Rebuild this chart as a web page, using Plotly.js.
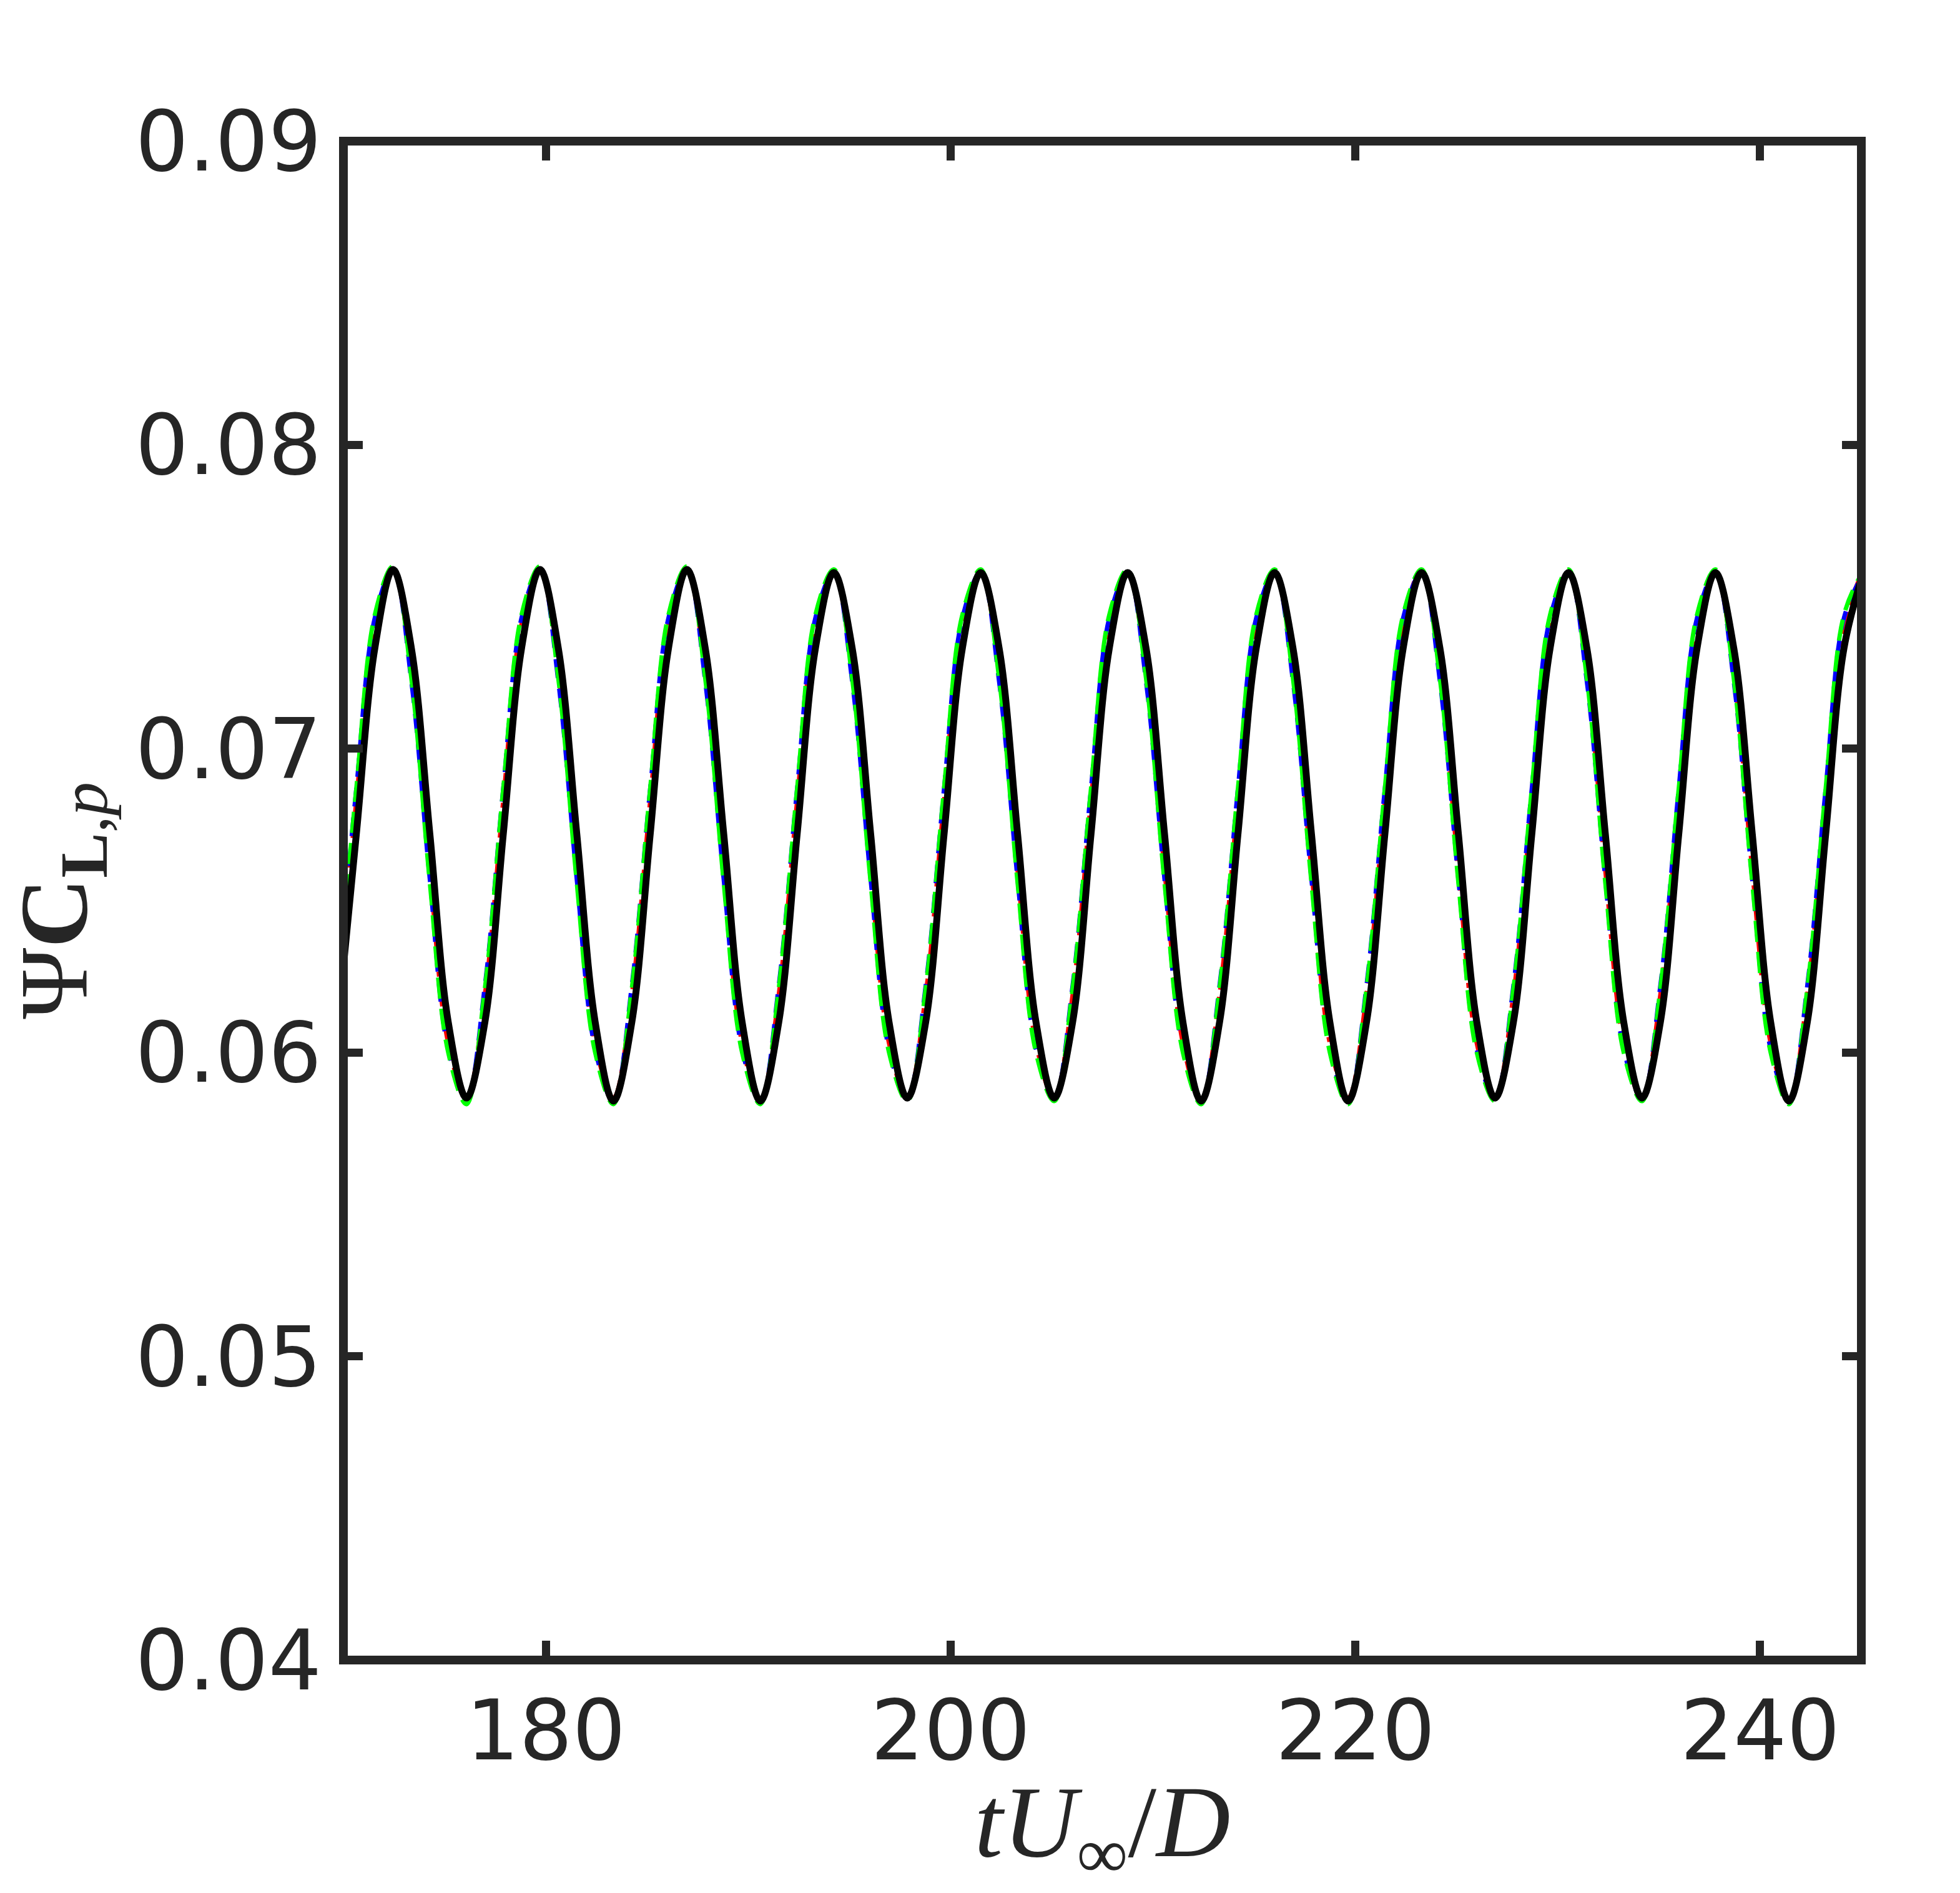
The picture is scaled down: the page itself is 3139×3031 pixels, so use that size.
<!DOCTYPE html>
<html><head><meta charset="utf-8">
<script src="https://cdn.plot.ly/plotly-3.0.1.min.js"></script>
<style>html,body{margin:0;padding:0;background:#fff}</style>
</head><body><div id="chart" style="width:3139px;height:3031px"></div>
<script>
// time samples (tU/D)
const time = [169.73,170.64,171.55,172.45,173.36,174.27,175.18,176.08,
176.99,177.90,178.80,179.71,180.62,181.53,182.44,183.34,
184.25,185.16,186.06,186.97,187.88,188.79,189.70,190.60,
191.51,192.42,193.32,194.23,195.14,196.05,196.96,197.86,
198.77,199.68,200.58,201.49,202.40,203.31,204.22,205.12,
206.03,206.94,207.84,208.75,209.66,210.57,211.48,212.38,
213.29,214.20,215.10,216.01,216.92,217.83,218.74,219.64,
220.55,221.46,222.36,223.27,224.18,225.09,226.00,226.90,
227.81,228.72,229.62,230.53,231.44,232.35,233.26,234.16,
235.07,235.98,236.88,237.79,238.70,239.61,240.52,241.42,
242.33,243.24,244.14,245.05];

const seriesBlack = [0.0610,0.0672,0.0733,0.0759,0.0733,0.0672,0.0610,0.0585,
0.0610,0.0672,0.0733,0.0759,0.0733,0.0672,0.0610,0.0584,
0.0610,0.0672,0.0733,0.0759,0.0733,0.0672,0.0610,0.0584,
0.0610,0.0672,0.0733,0.0758,0.0733,0.0672,0.0610,0.0585,
0.0610,0.0672,0.0733,0.0758,0.0733,0.0672,0.0610,0.0585,
0.0610,0.0672,0.0733,0.0758,0.0733,0.0672,0.0610,0.0584,
0.0610,0.0672,0.0733,0.0758,0.0733,0.0672,0.0610,0.0584,
0.0610,0.0672,0.0733,0.0758,0.0733,0.0672,0.0610,0.0585,
0.0610,0.0672,0.0733,0.0758,0.0733,0.0672,0.0610,0.0585,
0.0610,0.0672,0.0733,0.0758,0.0733,0.0672,0.0610,0.0584,
0.0610,0.0672,0.0733,0.0757];

const seriesRed = [0.0619,0.0683,0.0741,0.0759,0.0725,0.0660,0.0603,0.0585,
0.0619,0.0683,0.0741,0.0759,0.0725,0.0660,0.0603,0.0585,
0.0619,0.0683,0.0741,0.0759,0.0725,0.0660,0.0603,0.0584,
0.0619,0.0683,0.0741,0.0758,0.0725,0.0660,0.0603,0.0585,
0.0619,0.0683,0.0741,0.0758,0.0725,0.0660,0.0603,0.0585,
0.0619,0.0683,0.0741,0.0758,0.0725,0.0660,0.0603,0.0584,
0.0619,0.0683,0.0741,0.0758,0.0725,0.0660,0.0603,0.0585,
0.0619,0.0683,0.0741,0.0759,0.0725,0.0660,0.0603,0.0585,
0.0619,0.0683,0.0741,0.0758,0.0725,0.0660,0.0603,0.0585,
0.0619,0.0683,0.0741,0.0758,0.0725,0.0660,0.0603,0.0584,
0.0619,0.0683,0.0741,0.0758];

const seriesBlue = [0.0622,0.0687,0.0743,0.0759,0.0722,0.0657,0.0601,0.0585,
0.0622,0.0687,0.0743,0.0759,0.0722,0.0657,0.0601,0.0584,
0.0622,0.0687,0.0743,0.0759,0.0722,0.0657,0.0601,0.0584,
0.0622,0.0687,0.0743,0.0758,0.0722,0.0657,0.0601,0.0585,
0.0622,0.0687,0.0743,0.0758,0.0722,0.0657,0.0601,0.0585,
0.0622,0.0687,0.0743,0.0758,0.0722,0.0657,0.0601,0.0584,
0.0622,0.0687,0.0743,0.0758,0.0722,0.0657,0.0601,0.0584,
0.0622,0.0687,0.0743,0.0758,0.0722,0.0657,0.0601,0.0585,
0.0622,0.0687,0.0743,0.0758,0.0722,0.0657,0.0601,0.0585,
0.0622,0.0687,0.0743,0.0758,0.0722,0.0657,0.0601,0.0584,
0.0622,0.0687,0.0743,0.0757];

const seriesGreen = [0.0621,0.0687,0.0744,0.0760,0.0723,0.0656,0.0600,0.0583,
0.0621,0.0687,0.0744,0.0760,0.0723,0.0656,0.0600,0.0583,
0.0621,0.0687,0.0744,0.0760,0.0723,0.0656,0.0600,0.0583,
0.0621,0.0687,0.0744,0.0759,0.0723,0.0656,0.0600,0.0584,
0.0621,0.0687,0.0744,0.0759,0.0723,0.0656,0.0600,0.0584,
0.0621,0.0687,0.0744,0.0759,0.0723,0.0656,0.0600,0.0583,
0.0621,0.0687,0.0744,0.0759,0.0723,0.0656,0.0600,0.0583,
0.0621,0.0687,0.0744,0.0759,0.0723,0.0656,0.0600,0.0584,
0.0621,0.0687,0.0744,0.0759,0.0723,0.0656,0.0600,0.0584,
0.0621,0.0687,0.0744,0.0759,0.0723,0.0656,0.0600,0.0583,
0.0621,0.0687,0.0744,0.0758];

const xTickVals = [180, 200, 220, 240];
const yTickVals = [0.04, 0.05, 0.06, 0.07, 0.08, 0.09];
const yTickText = ['0.04', '0.05', '0.06', '0.07', '0.08', '0.09'];

const axisColor = '#262626';
const tickFont = {family: 'DejaVu Sans', size: 134, color: axisColor};

function trace(y, color, width, dash) {
  return {x: time, y: y, type: 'scatter', mode: 'lines',
    line: {color: color, width: width, dash: dash, shape: 'spline', smoothing: 1},
    hoverinfo: 'skip', showlegend: false, cliponaxis: true};
}

const data = [
  trace(seriesRed, '#ff0000', 7, '36px,12px,8px,12px'),
  trace(seriesBlue, '#0000ff', 7, '30px,18px'),
  trace(seriesGreen, '#00ff00', 7, '34px,16px'),
  trace(seriesBlack, '#000000', 11, 'solid')
];

const commonAxis = {
  showline: false, mirror: 'ticks',
  ticks: 'inside', ticklen: 31, tickwidth: 13, tickcolor: axisColor,
  showgrid: false, zeroline: false, tickfont: tickFont
};

const layout = {
  width: 3139, height: 3031,
  paper_bgcolor: '#ffffff', plot_bgcolor: '#ffffff',
  margin: {l: 549.5, r: 158, t: 226, b: 372.5, pad: 0},
  xaxis: Object.assign({}, commonAxis, {
    range: [170, 245],
    tickmode: 'array', tickvals: xTickVals,
    ticklabelstandoff: 24,
    title: {text: '<i>tU</i><sub>∞</sub>/<i>D</i>', standoff: 42,
      font: {family: 'Liberation Serif', size: 164, color: axisColor}}
  }),
  yaxis: Object.assign({}, commonAxis, {
    range: [0.04, 0.09],
    tickmode: 'array', tickvals: yTickVals, ticktext: yTickText,
    ticklabelstandoff: 34,
    title: {text: 'Ψ<b>C</b><sub><b>L</b>,<i>p</i></sub>', standoff: 30,
      font: {family: 'Liberation Serif', size: 155, color: axisColor}}
  }),
  shapes: [{type: 'rect', xref: 'paper', yref: 'paper', x0: 0, x1: 1, y0: 0, y1: 1,
    line: {color: axisColor, width: 14}, fillcolor: 'rgba(0,0,0,0)', layer: 'above'}]
};

Plotly.newPlot('chart', data, layout, {staticPlot: true, displayModeBar: false});
</script></body></html>
